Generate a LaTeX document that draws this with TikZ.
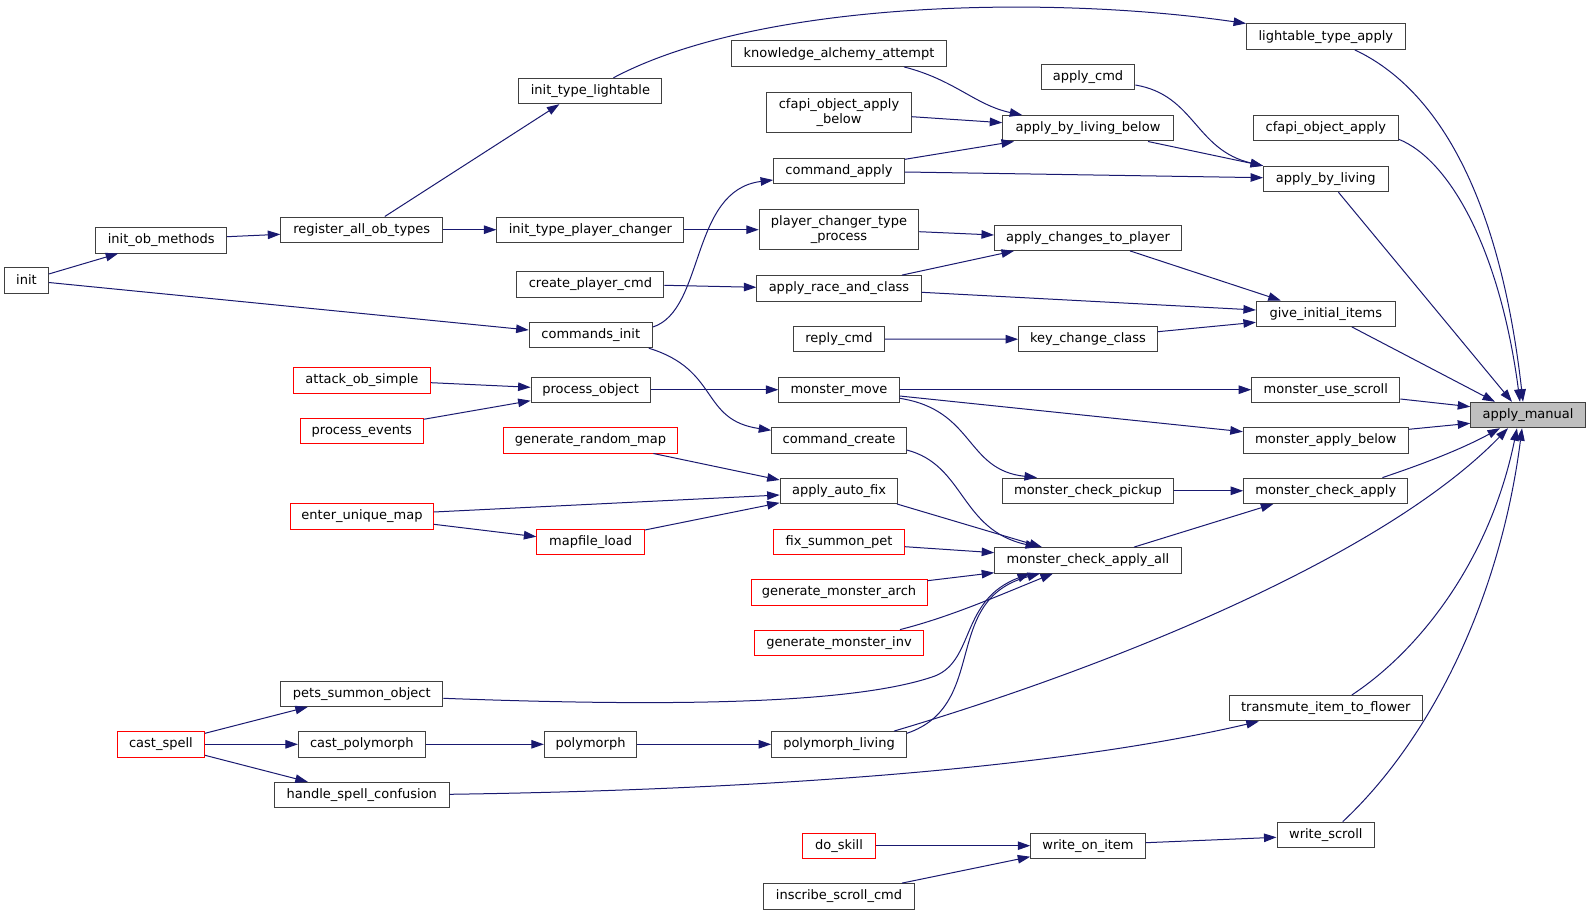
\documentclass[tikz,border=0pt]{standalone}
\usepackage{fontspec}
\setmainfont{DejaVu Sans}
\usetikzlibrary{arrows.meta,calc}
\definecolor{mblue}{HTML}{191970}
\definecolor{nodegray}{HTML}{404040}
\begin{document}
\begin{tikzpicture}[x=1pt,y=-1pt,
  box/.style={draw=nodegray, fill=white, line width=1pt, inner sep=0pt,
    minimum height=25.4pt, text height=9.7pt, text depth=2.6pt,
    font=\fontsize{13pt}{14.7pt}\selectfont},
  twobox/.style={draw=nodegray, fill=white, line width=1pt, inner sep=0pt,
    minimum height=40pt, align=center,
    font=\fontsize{13pt}{14.7pt}\selectfont},
  redbox/.style={box, draw=red},
  mainbox/.style={box, fill=black!25},
  edge/.style={draw=mblue, line width=1pt, -{Triangle[length=12.5pt,width=8.5pt]}}]
\useasboundingbox (0,0) rectangle (1591,915);
\fill[white] (0,0) rectangle (1591,915);
% column 0/1/2
\node[box,minimum width=43.6pt] (init) at (26.5,280.5) {init};
\node[box,minimum width=131pt] (iom) at (161.2,240.3) {init\_ob\_methods};
\node[box,minimum width=162pt] (raot) at (361.8,229.7) {register\_all\_ob\_types};
\node[redbox,minimum width=137.5pt] (aos) at (361.9,380.3) {attack\_ob\_simple};
\node[redbox,minimum width=122.7pt] (pe) at (361.8,431) {process\_events};
\node[redbox,minimum width=142.6pt] (eum) at (362,516.3) {enter\_unique\_map};
\node[box,minimum width=162pt] (pso) at (361.8,693.7) {pets\_summon\_object};
\node[redbox,minimum width=87.2pt] (cs) at (160.9,744.3) {cast\_spell};
\node[box,minimum width=126.7pt] (cp) at (361.8,744.3) {cast\_polymorph};
\node[box,minimum width=174.7pt] (hsc) at (361.8,795) {handle\_spell\_confusion};
% column 3
\node[box,minimum width=143pt] (itl) at (590.4,91) {init\_type\_lightable};
\node[box,minimum width=187pt] (itpc) at (590.4,229.7) {init\_type\_player\_changer};
\node[box,minimum width=147pt] (cpc) at (590.4,284.3) {create\_player\_cmd};
\node[box,minimum width=123.3pt] (ci) at (590.8,335) {commands\_init};
\node[box,minimum width=119pt] (po) at (590.6,389.7) {process\_object};
\node[redbox,minimum width=174pt] (grm) at (590.4,440.3) {generate\_random\_map};
\node[redbox,minimum width=107.5pt] (ml) at (590.6,541.7) {mapfile\_load};
\node[box,minimum width=92.3pt] (pm) at (590.5,744.3) {polymorph};
% column 4
\node[box,minimum width=215pt] (kaa) at (839,53.7) {knowledge\_alchemy\_attempt};
\node[twobox,minimum width=144.4pt] (coab) at (839,112.3) {cfapi\_object\_apply\\\_below};
\node[box,minimum width=130.8pt] (ca) at (839,171) {command\_apply};
\node[twobox,minimum width=159.5pt] (pctp) at (839,229.7) {player\_changer\_type\\\_process};
\node[box,minimum width=164.3pt] (arac) at (839,288.3) {apply\_race\_and\_class};
\node[box,minimum width=91pt] (rc) at (839,339) {reply\_cmd};
\node[box,minimum width=120.3pt] (mm) at (839,389.7) {monster\_move};
\node[box,minimum width=134.5pt] (cc) at (839,440.3) {command\_create};
\node[box,minimum width=117.7pt] (aaf) at (839,490.8) {apply\_auto\_fix};
\node[redbox,minimum width=130.8pt] (fsp) at (839,541.7) {fix\_summon\_pet};
\node[redbox,minimum width=176pt] (gma) at (839,592.3) {generate\_monster\_arch};
\node[redbox,minimum width=168.3pt] (gmi) at (839,642.8) {generate\_monster\_inv};
\node[box,minimum width=134.8pt] (pl) at (839,744.3) {polymorph\_living};
\node[redbox,minimum width=72.3pt] (ds) at (839,845.7) {do\_skill};
\node[box,minimum width=151pt] (isc) at (839,896.3) {inscribe\_scroll\_cmd};
% column 5
\node[box,minimum width=93.7pt] (acmd) at (1088,77.3) {apply\_cmd};
\node[box,minimum width=170.5pt] (ablb) at (1088,128.3) {apply\_by\_living\_below};
\node[box,minimum width=187pt] (actp) at (1088,237.7) {apply\_changes\_to\_player};
\node[box,minimum width=138.8pt] (kcc) at (1088,339.2) {key\_change\_class};
\node[box,minimum width=170.2pt] (mcp) at (1088,490.8) {monster\_check\_pickup};
\node[box,minimum width=186.6pt] (mcaa) at (1088,560.3) {monster\_check\_apply\_all};
\node[box,minimum width=114.5pt] (woi) at (1088,845.7) {write\_on\_item};
% column 6
\node[box,minimum width=158.5pt] (lta) at (1325.8,36.7) {lightable\_type\_apply};
\node[box,minimum width=145pt] (coa) at (1325.8,128.3) {cfapi\_object\_apply};
\node[box,minimum width=124.5pt] (abl) at (1325.8,179) {apply\_by\_living};
\node[box,minimum width=138.8pt] (gii) at (1325.8,313.7) {give\_initial\_items};
\node[box,minimum width=148.2pt] (mus) at (1325.8,389.7) {monster\_use\_scroll};
\node[box,minimum width=165pt] (mab) at (1325.8,440.3) {monster\_apply\_below};
\node[box,minimum width=164.2pt] (mca) at (1325.8,490.8) {monster\_check\_apply};
\node[box,minimum width=193.6pt] (titf) at (1325.8,708.2) {transmute\_item\_to\_flower};
\node[box,minimum width=97.6pt] (ws) at (1325.8,834.8) {write\_scroll};
% column 7
\node[mainbox,minimum width=114.5pt] (am) at (1528,415) {apply\_manual};

% edges
\draw[edge] ($(init.east)+(0,-6.5)$) -- ($(iom.south)+(-43,0)$);
\draw[edge] ($(init.east)+(0,2)$) -- ($(ci.west)+(0,-5)$);
\draw[edge] ($(iom.east)+(0,-3.6)$) -- ($(raot.west)+(0,4.6)$);
\draw[edge] ($(raot.north)+(23,0)$) -- ($(itl.south)+(-31,0)$);
\draw[edge] (raot.east) -- (itpc.west);
\draw[edge] ($(itl.north)+(23,0)$) .. controls (760,0) and (1050,-5) .. (lta.north west);
\draw[edge] (itpc.east) -- (pctp.west);
\draw[edge] ($(ci.east)+(0,-8)$) .. controls (705,310) and (690,190) .. ($(ca.west)+(0,9)$);
\draw[edge] ($(ci.south)+(58,0)$) .. controls (720,370) and (700,420) .. ($(cc.west)+(0,-10)$);
\draw[edge] ($(cpc.east)+(0,1)$) -- ($(arac.west)+(0,-1)$);
\draw[edge] ($(kaa.south)+(65,0)$) .. controls (955,80) and (975,105) .. ($(ablb.north west)+(20,0)$);
\draw[edge] ($(coab.east)+(0,4.4)$) -- ($(ablb.west)+(0,-5.6)$);
\draw[edge] ($(ca.east)+(0,-11.7)$) -- ($(ablb.south)+(-74,0)$);
\draw[edge] ($(ca.east)+(0,1)$) -- ($(abl.west)+(0,-1.3)$);
\draw[edge] ($(acmd.east)+(0,7.7)$) .. controls (1195,95) and (1195,150) .. (abl.north west);
\draw[edge] ($(ablb.south)+(60,0)$) -- (abl.north west);
\draw[edge] ($(pctp.east)+(0,2)$) -- ($(actp.west)+(0,-2.7)$);
\draw[edge] ($(arac.north)+(63,0)$) -- ($(actp.south)+(-74,0)$);
\draw[edge] ($(arac.east)+(0,4)$) -- ($(gii.west)+(0,-3.7)$);
\draw[edge] ($(actp.south)+(42,0)$) -- ($(gii.north)+(-45,0)$);
\draw[edge] (rc.east) -- (kcc.west);
\draw[edge] ($(kcc.east)+(0,-7.5)$) -- ($(gii.west)+(0,8.6)$);
\draw[edge] ($(aos.east)+(0,2.4)$) -- ($(po.west)+(0,-2.4)$);
\draw[edge] ($(pe.east)+(0,-11.7)$) -- ($(po.west)+(0,11)$);
\draw[edge] (po.east) -- (mm.west);
\draw[edge] (mm.east) -- (mus.west);
\draw[edge] ($(mm.east)+(0,6.3)$) -- ($(mab.west)+(0,-8.6)$);
\draw[edge] ($(mm.east)+(0,8.6)$) .. controls (975,410) and (965,470) .. ($(mcp.north)+(-51,0)$);
\draw[edge] (mcp.east) -- (mca.west);
\draw[edge] ($(cc.east)+(0,9.7)$) .. controls (965,465) and (960,530) .. ($(mcaa.north)+(-50,0)$);
\draw[edge] ($(grm.south)+(63,0)$) -- ($(aaf.west)+(0,-10.8)$);
\draw[edge] ($(eum.east)+(0,-4.3)$) -- ($(aaf.west)+(0,4.2)$);
\draw[edge] ($(eum.east)+(0,8)$) -- ($(ml.west)+(0,-5)$);
\draw[edge] ($(ml.east)+(0,-11.7)$) -- ($(aaf.west)+(0,12)$);
\draw[edge] ($(aaf.south)+(58,0)$) -- ($(mcaa.north)+(-46,0)$);
\draw[edge] ($(fsp.east)+(0,5)$) -- ($(mcaa.west)+(0,-7.6)$);
\draw[edge] ($(gma.east)+(0,-11.6)$) -- ($(mcaa.west)+(0,12.4)$);
\draw[edge] ($(gmi.north)+(61,0)$) .. controls (950,617) and (1000,595) .. ($(mcaa.south)+(-35,0)$);
\draw[edge] ($(pso.east)+(0,4.6)$) .. controls (650,706) and (850,706) .. (935,676) .. controls (975,660) and (960,600) .. ($(mcaa.south)+(-58,0)$);
\draw[edge] ($(pl.east)+(0,-11)$) .. controls (990,705) and (940,600) .. ($(mcaa.south)+(-48,0)$);
\draw[edge] ($(mcaa.north)+(46,0)$) -- ($(mca.south)+(-52.5,0)$);
\draw[edge] ($(cs.east)+(0,-11)$) -- ($(pso.south)+(-54,0)$);
\draw[edge] (cs.east) -- (cp.west);
\draw[edge] ($(cs.east)+(0,11)$) -- ($(hsc.north)+(-54,0)$);
\draw[edge] (cp.east) -- (pm.west);
\draw[edge] (pm.east) -- (pl.west);
\draw[edge] ($(hsc.east)+(0,-0.7)$) .. controls (750,790) and (1050,770) .. ($(titf.south)+(-67,0)$);
\draw[edge] ($(pl.north)+(55,0)$) .. controls (1100,670) and (1380,560) .. ($(am.south)+(-20,0)$);
\draw[edge] (ds.east) -- (woi.west);
\draw[edge] ($(isc.north)+(63,0)$) -- ($(woi.west)+(0,11)$);
\draw[edge] ($(woi.east)+(0,-3)$) -- ($(ws.west)+(0,2.5)$);
\draw[edge] ($(lta.south)+(29,0)$) .. controls (1440,90) and (1500,200) .. ($(am.north)+(-5,0)$);
\draw[edge] ($(coa.east)+(0,11)$) .. controls (1450,160) and (1500,250) .. ($(am.north)+(-8,0)$);
\draw[edge] ($(abl.south)+(12.6,0)$) -- ($(am.north)+(-16,0)$);
\draw[edge] ($(gii.south)+(26,0)$) -- ($(am.north)+(-33,0)$);
\draw[edge] ($(mus.east)+(0,9.3)$) -- ($(am.west)+(0,-8.3)$);
\draw[edge] ($(mab.east)+(0,-11)$) -- ($(am.west)+(0,8.3)$);
\draw[edge] ($(mca.north)+(56.6,0)$) .. controls (1420,465) and (1460,450) .. ($(am.south)+(-28,0)$);
\draw[edge] ($(titf.north)+(26,0)$) .. controls (1420,650) and (1490,560) .. ($(am.south)+(-11,0)$);
\draw[edge] ($(ws.north)+(17,0)$) .. controls (1430,740) and (1500,600) .. ($(am.south)+(-6,0)$);
\end{tikzpicture}
\end{document}
